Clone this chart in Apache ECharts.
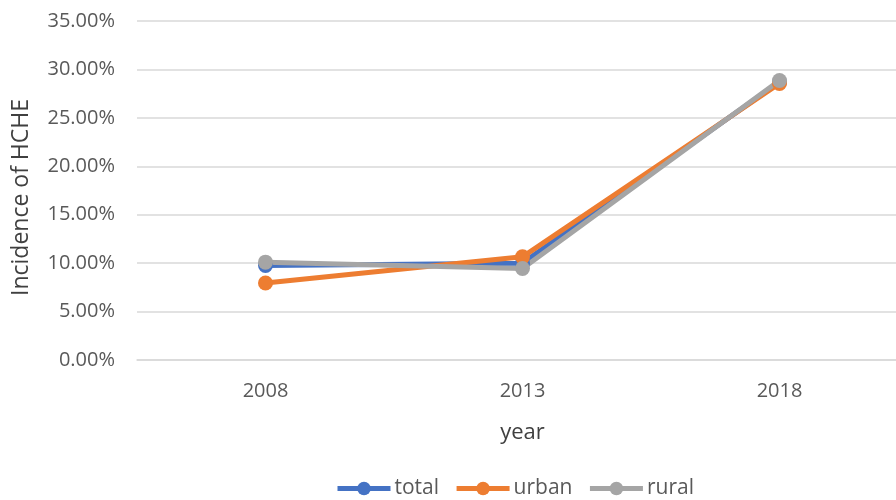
<!DOCTYPE html>
<html>
<head>
<meta charset="utf-8">
<script src="https://cdn.jsdelivr.net/npm/echarts@6/dist/echarts.min.js"></script>
<style>
  html, body { margin: 0; padding: 0; background: #fff; overflow: hidden; }
  /* the drawing is a bit wider than the window; its right edge is cut off */
  #chart { width: 908px; height: 500px; }
</style>
</head>
<body>
<div id="chart"></div>
<script>
// Survey years on the category axis
const years = ['2008', '2013', '2018'];

// Incidence of HCHE (%), by population group
const total = [9.75, 10.0, 28.7];
const urban = [7.95, 10.65, 28.55];
const rural = [10.1, 9.45, 28.85];

const FONT = 'Open Sans';
const TEXT = '#595959';

function lineSeries(name, data, color) {
  return {
    name: name,
    type: 'line',
    data: data,
    symbol: 'circle',
    symbolSize: 15,
    lineStyle: { width: 5, color: color },
    itemStyle: { color: color },
    emphasis: { disabled: true }
  };
}

const chart = echarts.init(document.getElementById('chart'), null, { renderer: 'canvas' });
chart.setOption({
  animation: false,
  backgroundColor: '#ffffff',
  grid: { left: 137, right: 0, top: 21, bottom: 140, containLabel: false },
  legend: {
    top: 478,
    left: 335,
    padding: 0,
    itemWidth: 53,
    itemHeight: 17,
    itemGap: 15,
    lineStyle: { width: 5 },
    textStyle: { fontFamily: FONT, fontSize: 21, color: TEXT, padding: [0, 0, 0, -1] },
    data: ['total', 'urban', 'rural']
  },
  xAxis: {
    type: 'category',
    data: years,
    boundaryGap: true,
    name: 'year',
    nameLocation: 'middle',
    nameGap: 62,
    nameTextStyle: { fontFamily: FONT, fontSize: 22, color: '#404040' },
    axisLine: { lineStyle: { color: '#d9d9d9', width: 1.5 } },
    axisTick: { show: false },
    axisLabel: { fontFamily: FONT, fontSize: 20, color: TEXT, margin: 21 }
  },
  yAxis: {
    type: 'value',
    min: 0,
    max: 35,
    interval: 5,
    name: 'Incidence of HCHE',
    nameLocation: 'middle',
    nameGap: 104,
    nameTextStyle: { fontFamily: FONT, fontSize: 23, color: '#404040', padding: [0, 14, 0, 0] },
    axisLine: { show: false },
    axisTick: { show: false },
    splitLine: { lineStyle: { color: '#d9d9d9', width: 1.5 } },
    axisLabel: {
      fontFamily: FONT, fontSize: 20, color: TEXT, margin: 22,
      formatter: v => v.toFixed(2) + '%'
    }
  },
  series: [
    lineSeries('total', total, '#4472c4'),
    lineSeries('urban', urban, '#ed7d31'),
    lineSeries('rural', rural, '#a5a5a5')
  ]
});
</script>
</body>
</html>
